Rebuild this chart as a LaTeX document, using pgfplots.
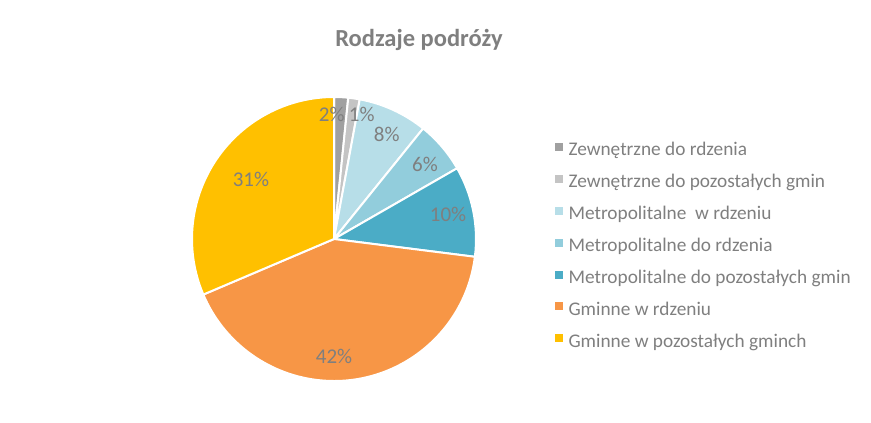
\documentclass[border=0pt]{standalone}
\usepackage{pgfplots}
\pgfplotsset{compat=1.18}
\usepackage{pgfplotstable}
\usepackage{fontspec}
\setmainfont{Carlito}
\definecolor{c0}{HTML}{A0A0A0}
\definecolor{c1}{HTML}{C4C4C4}
\definecolor{c2}{HTML}{B7DEE8}
\definecolor{c3}{HTML}{92CDDC}
\definecolor{c4}{HTML}{4BACC6}
\definecolor{c5}{HTML}{F79646}
\definecolor{c6}{HTML}{FFC000}
\definecolor{txtgray}{HTML}{7F7F7F}
\newcommand\labfont{\fontsize{21bp}{25bp}\selectfont}
\newcommand\legfont{\fontsize{19.3bp}{23bp}\selectfont}
\pgfplotstableread[col sep=comma]{
name,value,lx,ly
Zewnętrzne do rdzenia,1.6,-0.016,0.824
Zewnętrzne do pozostałych gmin,1.3,0.195,0.824
Metropolitalne  w rdzeniu,7.9,0.371,0.685
Metropolitalne do rdzenia,5.9,0.641,0.474
Metropolitalne do pozostałych gmin,10.3,0.803,0.122
Gminne w rdzeniu,41.6,0.0,-0.875
Gminne w pozostałych gminch,31.4,-0.585,0.368
}\piedata
\begin{document}
\begin{tikzpicture}
\useasboundingbox (0,0) rectangle (871bp,423bp);
\begin{axis}[
  at={(334bp,184bp)}, anchor=center,
  x=142bp, y=142bp,
  xmin=-1, xmax=1, ymin=-1, ymax=1,
  hide axis, clip=false,
  legend cell align=left,
  legend style={at={(1.278,0.474)}, anchor=west, draw=none, fill=none,
    inner sep=0pt, font=\legfont, text=txtgray, row sep=13.9bp,
    nodes={inner sep=0pt, text height=14bp, text depth=4bp},
    /tikz/every odd column/.append style={column sep=6bp}},
]
\gdef\pieangle{90}
\pgfplotsinvokeforeach{0,...,6}{
  \pgfplotstablegetelem{#1}{value}\of\piedata \let\val\pgfplotsretval
  \pgfmathsetmacro\endang{\pieangle-3.6*\val}
  \edef\doit{\noexpand\filldraw[fill=c#1, draw=white, line width=2bp, line join=round]
    (axis cs:0,0) -- ++(\pieangle:142bp) arc[start angle=\pieangle, end angle=\endang, radius=142bp] -- cycle;}
  \doit
  \xdef\pieangle{\endang}
}
\pgfplotsinvokeforeach{0,...,6}{
  \pgfplotstablegetelem{#1}{value}\of\piedata \let\val\pgfplotsretval
  \pgfplotstablegetelem{#1}{lx}\of\piedata \let\lx\pgfplotsretval
  \pgfplotstablegetelem{#1}{ly}\of\piedata \let\ly\pgfplotsretval
  \pgfmathtruncatemacro\lab{round(\val)}
  \edef\doit{\noexpand\node[anchor=base, text=txtgray, font=\noexpand\labfont, inner sep=0pt] at (axis cs:\lx,\ly) {\lab\noexpand\%};}
  \doit
}
\addlegendimage{legend image code/.code={\fill[c0] (0bp,0.5bp) rectangle (7bp,7.5bp);}}
\addlegendentry{Zewnętrzne do rdzenia}
\addlegendimage{legend image code/.code={\fill[c1] (0bp,0.5bp) rectangle (7bp,7.5bp);}}
\addlegendentry{Zewnętrzne do pozostałych gmin}
\addlegendimage{legend image code/.code={\fill[c2] (0bp,0.5bp) rectangle (7bp,7.5bp);}}
\addlegendentry{Metropolitalne\ \ w rdzeniu}
\addlegendimage{legend image code/.code={\fill[c3] (0bp,0.5bp) rectangle (7bp,7.5bp);}}
\addlegendentry{Metropolitalne do rdzenia}
\addlegendimage{legend image code/.code={\fill[c4] (0bp,0.5bp) rectangle (7bp,7.5bp);}}
\addlegendentry{Metropolitalne do pozostałych gmin}
\addlegendimage{legend image code/.code={\fill[c5] (0bp,0.5bp) rectangle (7bp,7.5bp);}}
\addlegendentry{Gminne w rdzeniu}
\addlegendimage{legend image code/.code={\fill[c6] (0bp,0.5bp) rectangle (7bp,7.5bp);}}
\addlegendentry{Gminne w pozostałych gminch}
\end{axis}
\node[anchor=base, text=txtgray, font=\fontsize{24.5bp}{28bp}\selectfont\bfseries, inner sep=0pt] at (419bp,376.5bp) {Rodzaje podróży};
\end{tikzpicture}
\end{document}
